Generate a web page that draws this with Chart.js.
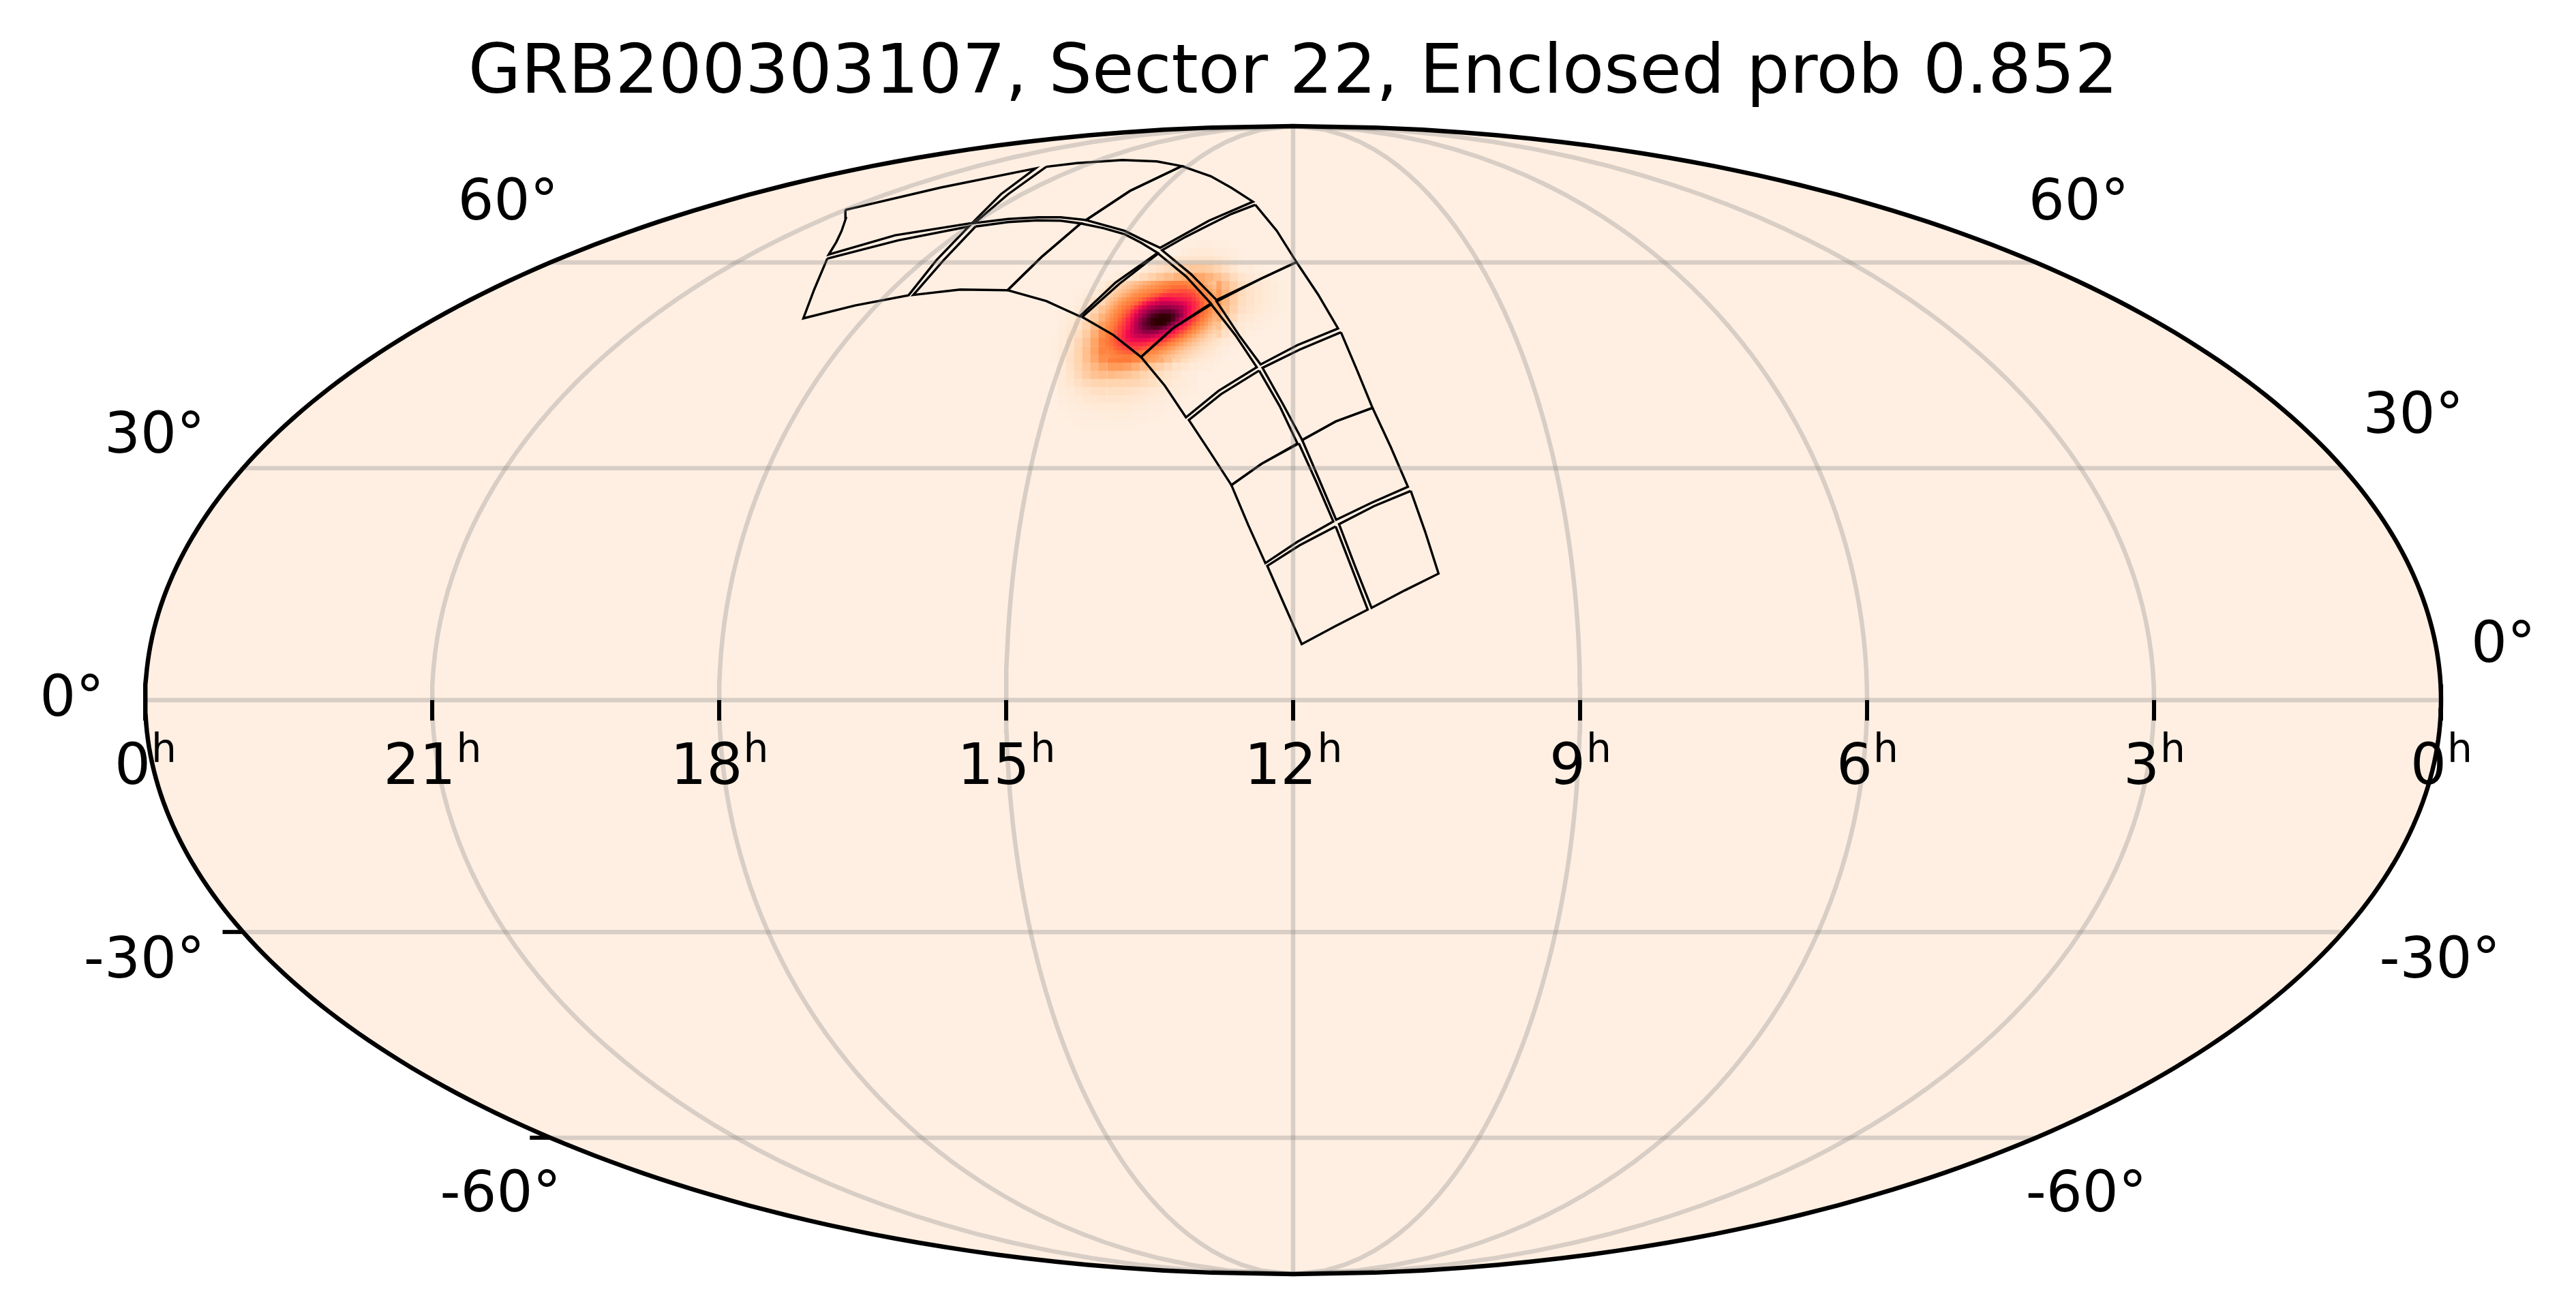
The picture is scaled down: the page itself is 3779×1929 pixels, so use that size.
<!DOCTYPE html>
<html>
<head>
<meta charset="utf-8">
<title>GRB200303107 Sector 22</title>
<script src="https://cdn.jsdelivr.net/npm/chart.js@4"></script>
<style>
  html, body { margin: 0; padding: 0; background: #ffffff; }
  #wrap { position: relative; width: 3779px; height: 1929px; }
</style>
</head>
<body>
<div id="wrap"><canvas id="skyChart"></canvas></div>
<script>
const titleText = "GRB200303107, Sector 22, Enclosed prob 0.852";

// right ascension ticks (hours), left to right
const raTicks = [24, 21, 18, 15, 12, 9, 6, 3, 0];
const raTickLabels = ["0", "21", "18", "15", "12", "9", "6", "3", "0"];
const decTicks = [60, 30, 0, -30, -60];
const decTickLabels = ["60°", "30°", "0°", "-30°", "-60°"];
const decTickMarks = [-30, -60];

// sky plane units of the projection: x within +-2400, y within +-1693
const ccdOutlines = [
  [[-936,1446],[-736,1512],[-539,1568],[-611,1492],[-671,1407],[-832,1371],[-971,1314],[-955,1351],[-944,1384],[-935,1421],[-936,1446]],
  [[-974,1302],[-826,1356],[-678,1397],[-746,1297],[-804,1194],[-916,1164],[-1024,1126],[-1001,1212],[-974,1302]],
  [[-516,1573],[-452,1584],[-357,1593],[-285,1589],[-233,1575],[-341,1502],[-433,1416],[-486,1424],[-533,1424],[-596,1419],[-666,1407],[-596,1492],[-516,1573]],
  [[-664,1397],[-596,1410],[-536,1415],[-486,1414],[-444,1406],[-526,1307],[-597,1209],[-696,1211],[-794,1195],[-731,1297],[-664,1397]],
  [[-233,1575],[-172,1545],[-129,1511],[-84,1470],[-176,1414],[-278,1334],[-319,1361],[-352,1384],[-433,1416],[-341,1502],[-233,1575]],
  [[-444,1406],[-397,1392],[-352,1374],[-318,1349],[-283,1319],[-371,1232],[-446,1132],[-516,1177],[-597,1209],[-526,1307],[-444,1406]],
  [[-79,1461],[-34,1384],[7,1292],[-67,1243],[-160,1180],[-214,1257],[-274,1327],[-224,1367],[-172,1404],[-129,1434],[-79,1461]],
  [[-282,1317],[-224,1250],[-172,1170],[-251,1097],[-318,1012],[-376,1077],[-441,1130],[-364,1227],[-282,1317]],
  [[7,1292],[52,1197],[94,1096],[9,1047],[-68,990],[-111,1072],[-160,1176],[-67,1243],[7,1292]],
  [[-171,1167],[-121,1077],[-76,982],[-156,912],[-224,834],[-268,927],[-318,1012],[-251,1097],[-171,1167]],
  [[100,1085],[134,972],[166,862],[89,822],[19,767],[-21,872],[-64,980],[14,1034],[100,1085]],
  [[-71,972],[-28,867],[9,757],[-66,697],[-129,634],[-174,732],[-218,826],[-151,902],[-71,972]],
  [[166,862],[204,747],[240,629],[164,582],[90,532],[54,652],[19,767],[89,822],[166,862]],
  [[12,757],[49,642],[84,527],[9,467],[-58,404],[-94,517],[-129,634],[-66,697],[12,757]],
  [[246,617],[276,497],[304,373],[234,324],[164,272],[129,397],[96,519],[169,572],[246,617]],
  [[89,512],[122,392],[156,267],[87,217],[18,165],[-18,280],[-54,396],[14,457],[89,512]]
];

// probability map, read by eye, percent of the peak
const heatColumns = [-500,-483,-466,-449,-432,-415,-398,-380,-363,-346,-329,-312,-295,-278,-261,-243,-226,-209,-192,-175,-158,-141,-124,-107,-89,-72,-55,-38,-21];
const heatRows = [1345,1321,1297,1273,1248,1224,1200,1176,1152,1128,1104,1080,1056,1031,1007,983,959,935,911,887,863,838,814];
const heatValues = [
  [0,0,0,0,0,0,0,0,0,0,0,0,0,0,0,0,1,1,2,2,1,1],
  [0,0,0,0,0,0,0,0,0,0,0,0,0,0,0,0,3,5,5,5,4,3,2],
  [0,0,0,0,0,0,0,0,0,0,0,0,2,4,6,8,9,10,10,10,8,6,3,1],
  [0,0,0,0,0,0,0,0,0,0,2,5,9,12,16,19,22,24,24,22,18,13,8,4,3,1,0],
  [0,0,0,0,0,0,0,1,3,6,10,15,20,25,29,33,35,37,36,33,28,22,15,9,6,4,3,1,0],
  [0,0,0,0,0,1,3,6,10,15,21,27,33,38,42,45,47,47,46,43,37,29,21,14,10,7,5,3,1],
  [0,0,0,0,2,5,9,14,20,27,34,41,47,51,55,58,58,57,54,48,41,32,23,15,11,8,5,3,1],
  [0,0,0,2,6,11,17,24,32,41,49,56,61,66,70,72,70,66,60,52,42,32,22,14,11,7,5,3,1],
  [0,0,1,5,10,18,26,35,45,54,62,71,78,82,84,84,78,70,60,51,40,29,20,12,9,6,4,2,1],
  [0,1,4,8,15,24,33,43,53,62,72,85,95,100,98,90,76,68,56,45,34,23,15,8,6,4,2,1,0],
  [0,2,6,11,19,30,39,49,58,69,80,90,96,96,90,80,72,60,50,38,27,17,10,5,3,2,1],
  [0,3,8,14,23,34,44,53,64,74,82,86,86,80,74,68,60,51,41,30,20,12,7,3,1],
  [1,4,10,17,26,37,47,55,66,72,74,74,72,65,60,54,45,35,24,15,9,5,2],
  [1,5,11,19,28,38,47,55,60,62,62,58,54,50,44,37,28,19,12,7,4,2],
  [1,5,12,19,28,36,44,49,50,50,47,42,38,35,28,20,14,9,6,4,2],
  [0,5,11,18,25,31,36,40,40,38,34,29,25,21,16,11,8,5,3,2],
  [0,5,10,16,22,27,29,30,28,26,23,19,16,13,10,7,4,2],
  [0,5,8,12,16,18,19,19,19,18,17,15,13,10,7,5,3,2],
  [0,3,5,8,10,12,13,13,13,12,11,9,7,5,4,3,2,1],
  [0,2,3,5,7,8,9,9,9,8,7,6,5,3,2,2,1],
  [0,1,2,3,4,5,5,5,5,5,4,3,2,2,1],
  [0,0,1,1,2,2,3,3,3,3,2,2,1,1],
  [0,0,0,1,1,1,1,1,1,1,1]
];

// finer cells around the peak, same scale
const coreColumns = [-388,-379,-371,-362,-354,-345,-336,-328,-319,-311,-302,-294,-285,-276,-268,-259,-251,-242,-234,-225,-217,-208,-199,-191,-182,-174,-165];
const coreRows = [1230,1218,1206,1194,1182,1170,1158,1146,1134,1122,1110,1098,1086,1074,1062,1050,1038,1026,1014];
const coreValues = [
  [8,10,13,16,19,22,25,28,31,33,35,38,40,42,44,46,47,47,48,47,46,44,41,38,34,30,26],
  [11,14,17,20,24,27,30,33,36,39,41,43,45,47,49,50,52,52,52,52,50,48,46,43,38,34,29],
  [14,18,22,25,29,32,36,39,42,44,46,48,50,51,53,55,56,56,57,57,56,54,51,47,43,38,33],
  [18,22,26,30,34,38,42,45,47,49,51,54,56,59,61,62,62,62,62,61,60,58,54,51,47,42,36],
  [22,27,31,36,40,44,47,49,52,55,59,62,66,70,70,70,69,68,67,66,64,61,57,53,49,44,38],
  [26,31,36,41,45,48,51,54,59,65,70,73,76,78,78,78,77,76,74,72,68,64,60,55,50,46,40],
  [30,35,40,45,49,52,56,62,68,74,78,81,83,85,85,85,83,82,80,76,70,65,60,55,51,46,40],
  [34,39,44,48,52,56,62,68,76,80,84,88,90,92,92,92,90,86,82,76,70,64,59,54,50,45,38],
  [37,42,47,51,55,60,67,74,80,85,90,94,97,99,99,98,95,90,84,76,68,62,57,52,47,42,35],
  [40,45,49,53,58,64,70,78,84,89,94,98,100,100,100,99,94,86,78,72,64,59,54,49,44,38,32],
  [43,47,51,56,60,66,73,80,86,91,95,98,100,100,98,93,86,78,72,66,60,55,50,45,40,34,28],
  [46,49,53,58,62,68,74,81,85,90,92,94,94,92,88,82,76,70,64,60,55,50,45,40,35,29,24],
  [48,51,55,59,64,70,75,80,82,85,86,85,84,80,77,72,68,62,58,54,49,44,39,34,29,24,20],
  [49,52,56,60,65,70,73,76,77,78,78,76,74,72,68,64,60,56,52,47,42,37,32,28,24,19,16],
  [50,53,56,60,64,68,70,71,71,71,70,68,66,63,60,56,52,48,44,40,35,31,27,23,19,16,13],
  [50,52,55,58,61,63,64,64,64,63,61,60,58,55,52,48,45,41,37,33,29,25,22,18,15,12,10],
  [48,50,53,55,57,59,59,59,58,56,54,52,50,48,45,41,38,34,31,27,24,20,17,14,12,10,8],
  [46,48,50,52,53,54,54,53,52,50,48,46,44,41,38,35,32,28,25,22,19,16,14,12,9,8,6],
  [44,46,47,48,49,49,48,47,46,44,42,40,38,35,32,29,26,23,20,18,15,13,11,9,7,6,5]
];

const heatColours = [
  [254,239,226],[255,228,204],[255,210,172],[255,187,135],[255,156,90],[255,122,56],
  [255,60,60],[242,10,80],[184,0,80],[110,0,56],[44,0,0]
];

const font = "'DejaVu Sans'";
const PLANE_X = 2400, PLANE_Y = 1693;

function heatColour(v) {
  const t = Math.min(v / 10, 9.999);
  const i = Math.floor(t), f = t - i;
  const a = heatColours[i], b = heatColours[i + 1];
  return "rgb(" + a.map((c, k) => Math.round(c + (b[k] - c) * f)).join(",") + ")";
}

// Mollweide projection, lon and lat in degrees
function project(lon, lat) {
  const phi = lat * Math.PI / 180;
  let theta = phi;
  if (Math.abs(lat) < 90) {
    for (let i = 0; i < 50; i++) {
      theta -= (2 * theta + Math.sin(2 * theta) - Math.PI * Math.sin(phi)) / (2 + 2 * Math.cos(2 * theta));
    }
  }
  return { x: PLANE_X * (lon / 180) * Math.cos(theta), y: PLANE_Y * Math.sin(theta) };
}

const raToLon = (h) => (12 - h) * 15;

const meridians = [-135, -90, -45, 0, 45, 90, 135].map((lon) => {
  const pts = [];
  for (let lat = -90; lat <= 90; lat += 2) pts.push(project(lon, lat));
  return pts;
});
const parallels = decTicks.map((lat) => {
  const pts = [];
  for (let lon = -180; lon <= 180; lon += 5) pts.push(project(lon, lat));
  return pts;
});
const boundary = [];
for (let lat = -90; lat <= 90; lat += 1) boundary.push(project(-180, lat));
for (let lat = 90; lat >= -90; lat -= 1) boundary.push(project(180, lat));

function gridPoints(columns, rows, values) {
  const pts = [];
  rows.forEach((y, j) => {
    columns.forEach((x, i) => {
      if (values[j][i] > 0) pts.push({ x: x, y: y, v: values[j][i] });
    });
  });
  return pts;
}

function lineSet(data, colour, width, order) {
  return {
    data: data, showLine: true, pointRadius: 0, borderColor: colour, borderWidth: width,
    backgroundColor: "transparent", tension: 0, fill: false, clip: false, order: order,
    borderJoinStyle: "miter"
  };
}

function cellSet(points, radius, order) {
  return {
    data: points, showLine: false, pointStyle: "rect", pointRadius: radius, pointBorderWidth: 0,
    backgroundColor: (ctx) => ctx.raw ? heatColour(ctx.raw.v) : "transparent", order: order
  };
}

const datasets = [];
datasets.push(Object.assign(lineSet(boundary, "#feefe2", 0, 50), { fill: "shape", backgroundColor: "#feefe2" }));
datasets.push(cellSet(gridPoints(heatColumns, heatRows, heatValues), 8.7, 40));
datasets.push(cellSet(gridPoints(coreColumns, coreRows, coreValues), 4.4, 35));
ccdOutlines.forEach((outline) => {
  datasets.push(lineSet(outline.map((p) => ({ x: p[0], y: p[1] })), "#000000", 3.4, 30));
});
meridians.concat(parallels).forEach((pts) => {
  datasets.push(lineSet(pts, "rgba(128,128,128,0.3)", 6.5, 20));
});
datasets.push(lineSet(boundary, "#000000", 6.5, 10));

// label offsets from the point where the parallel meets the boundary, in px
const decLeftOffsets = [[12, -63], [-56, -23], [-60, 23], [-56, 67], [16, 108]];
const decRightOffsets = [[-11, -63], [29, -52], [44, -56], [53, 67], [-15, 108]];

const axisLabels = {
  id: "axisLabels",
  afterDraw(chart) {
    const ctx = chart.ctx;
    const sx = chart.scales.x, sy = chart.scales.y;
    const zeroY = sy.getPixelForValue(0);
    ctx.save();
    ctx.fillStyle = "#000000";
    ctx.strokeStyle = "#000000";
    ctx.lineWidth = 6;
    ctx.textBaseline = "alphabetic";

    raTicks.forEach((h, i) => {
      const px = sx.getPixelForValue(project(raToLon(h), 0).x);
      ctx.beginPath();
      ctx.moveTo(px, zeroY);
      ctx.lineTo(px, zeroY + 30);
      ctx.stroke();

      ctx.font = "83.3px " + font;
      const w1 = ctx.measureText(raTickLabels[i]).width;
      ctx.font = "58.3px " + font;
      const w2 = ctx.measureText("h").width;
      const start = px - (w1 + w2) / 2;
      ctx.textAlign = "left";
      ctx.font = "83.3px " + font;
      ctx.fillText(raTickLabels[i], start, zeroY + 123);
      ctx.font = "58.3px " + font;
      ctx.fillText("h", start + w1 + 1, zeroY + 91);
    });

    decTickMarks.forEach((lat) => {
      const p = project(-180, lat);
      const px = sx.getPixelForValue(p.x), py = sy.getPixelForValue(p.y);
      ctx.beginPath();
      ctx.moveTo(px - 30, py);
      ctx.lineTo(px, py);
      ctx.stroke();
    });

    ctx.font = "83.3px " + font;
    decTicks.forEach((lat, i) => {
      const pl = project(-180, lat), pr = project(180, lat);
      const py = sy.getPixelForValue(pl.y);
      ctx.textAlign = "right";
      ctx.fillText(decTickLabels[i], sx.getPixelForValue(pl.x) + decLeftOffsets[i][0], py + decLeftOffsets[i][1]);
      ctx.textAlign = "left";
      ctx.fillText(decTickLabels[i], sx.getPixelForValue(pr.x) + decRightOffsets[i][0], py + decRightOffsets[i][1]);
    });
    ctx.restore();
  }
};

new Chart(document.getElementById("skyChart"), {
  type: "scatter",
  data: { datasets: datasets },
  plugins: [axisLabels],
  options: {
    responsive: true,
    maintainAspectRatio: false,
    animation: false,
    events: [],
    layout: { padding: { left: 213, right: 198, top: 0, bottom: 60 } },
    plugins: {
      legend: { display: false },
      tooltip: { enabled: false },
      title: {
        display: true,
        text: titleText,
        color: "#000000",
        font: { family: font, size: 100, weight: "normal", lineHeight: 1.2 },
        padding: { top: 50, bottom: 15 }
      }
    },
    scales: {
      x: { type: "linear", min: -PLANE_X, max: PLANE_X, display: false },
      y: { type: "linear", min: -PLANE_Y, max: PLANE_Y, display: false }
    }
  }
});
</script>
</body>
</html>
